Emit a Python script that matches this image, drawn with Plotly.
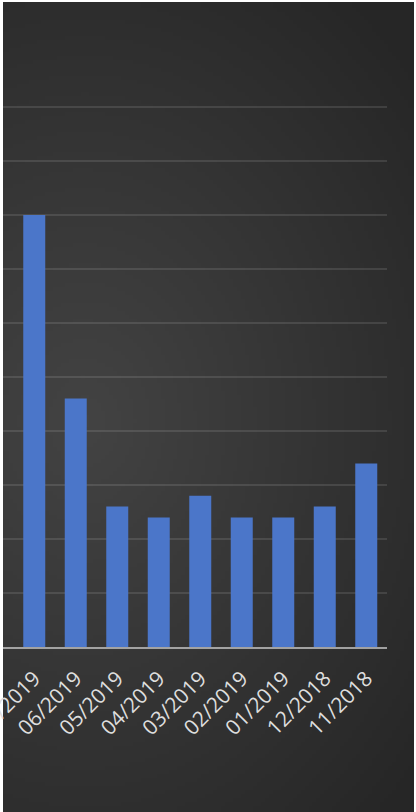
import base64
import math
import struct
import zlib

import plotly.graph_objects as go

# ---- data ----
months = ["07/2019", "06/2019", "05/2019", "04/2019", "03/2019",
          "02/2019", "01/2019", "12/2018", "11/2018"]
counts = [40, 23, 13, 12, 14, 12, 12, 13, 17]


# ---- background gradient image (radial, dark grey) ----
def make_png(w, h, fn):
    rows = []
    for j in range(h):
        row = bytearray([0])
        for i in range(w):
            v = fn(i / (w - 1), j / (h - 1))
            row += bytes([v, v, v])
        rows.append(bytes(row))
    raw = b"".join(rows)

    def chunk(tag, data):
        c = struct.pack(">I", len(data)) + tag + data
        return c + struct.pack(">I", zlib.crc32(tag + data) & 0xffffffff)

    png = b"\x89PNG\r\n\x1a\n"
    png += chunk(b"IHDR", struct.pack(">IIBBBBB", w, h, 8, 2, 0, 0, 0))
    png += chunk(b"IDAT", zlib.compress(raw, 9))
    png += chunk(b"IEND", b"")
    return "data:image/png;base64," + base64.b64encode(png).decode()


W_PX, H_PX = 411.0, 810.0
CX, CY = 80.0, 420.0


def shade(u, v):
    x = u * W_PX
    y = v * H_PX
    d = math.hypot(x - CX, (y - CY) * 0.8)
    t = min(1.0, d / 440.0)
    return int(round(0x43 - (0x43 - 0x26) * t))


bg_src = make_png(103, 203, shade)

# plot area in px: x 3..387, y 104..647 (value 50 sits at y=107)
L, R, T, B = 3, 29, 104, 165
PW = 416 - L - R
PH = 812 - T - B
Y_MAX = 50 + 3 / 10.8

fig = go.Figure()
fig.add_trace(go.Bar(
    x=months,
    y=counts,
    marker=dict(color="#4b76c9", line=dict(width=0)),
    hoverinfo="x+y",
))

fig.add_layout_image(dict(
    source=bg_src,
    xref="paper", yref="paper",
    x=0, y=(PH + T - 2) / PH,
    sizex=W_PX / PW, sizey=H_PX / PH,
    xanchor="left", yanchor="top",
    sizing="stretch",
    layer="below",
))

fig.update_layout(
    width=416, height=812,
    margin=dict(l=L, r=R, t=T, b=B, pad=0, autoexpand=False),
    paper_bgcolor="#ffffff",
    plot_bgcolor="rgba(0,0,0,0)",
    bargap=0.47,
    showlegend=False,
    xaxis=dict(
        type="category",
        range=[-0.753, 8.5],
        tickangle=-45,
        tickfont=dict(family="Open Sans", size=21, color="#dedede"),
        ticklabelstandoff=9,
        showgrid=False,
        showline=True,
        linecolor="rgba(200,200,200,0.75)",
        linewidth=2,
        ticks="",
        automargin=False,
        fixedrange=True,
    ),
    yaxis=dict(
        range=[0, Y_MAX],
        tick0=0,
        dtick=5,
        showticklabels=False,
        showgrid=True,
        gridcolor="rgba(255,255,255,0.11)",
        gridwidth=1.5,
        zeroline=False,
        ticks="",
        automargin=False,
        fixedrange=True,
    ),
)

fig.write_html(
    "out.html",
    config={"displayModeBar": False},
    post_script="document.body.style.margin='0';document.body.style.overflow='hidden';",
)
